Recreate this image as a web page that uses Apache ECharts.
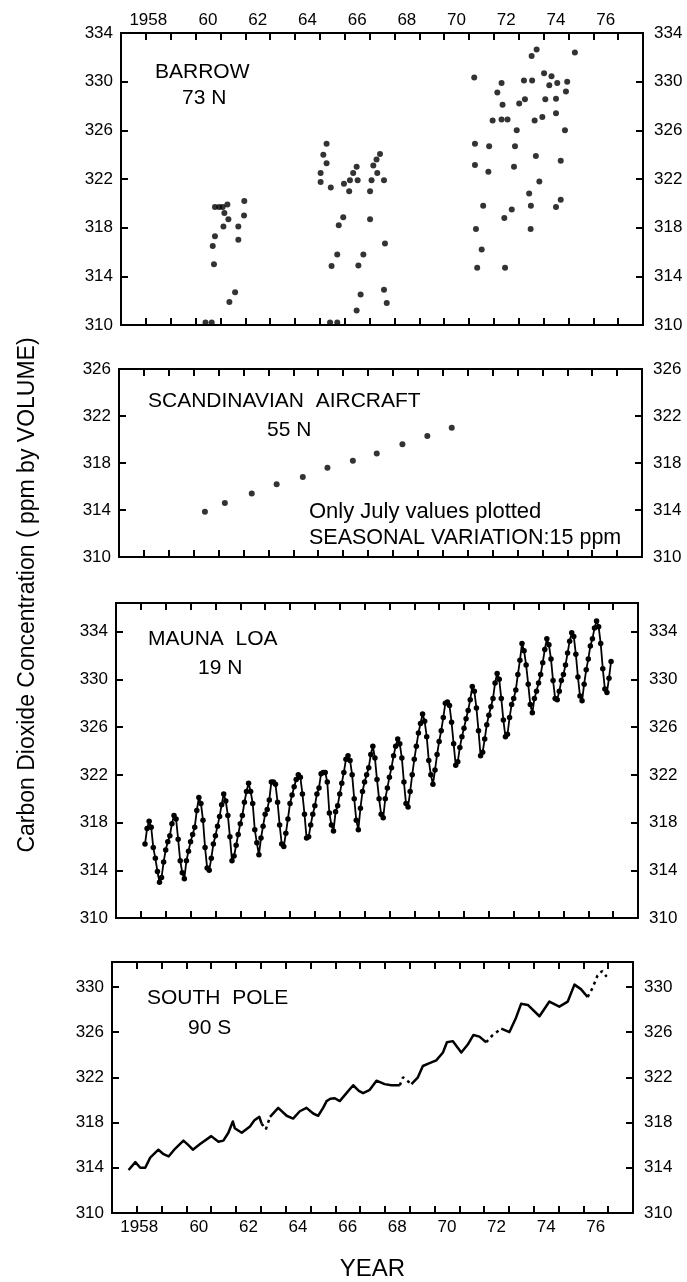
<!DOCTYPE html>
<html>
<head>
<meta charset="utf-8">
<script src="https://cdn.jsdelivr.net/npm/echarts@6/dist/echarts.min.js"></script>
<style>
  html, body { margin: 0; padding: 0; background: #fff; }
  #chart { width: 687px; height: 1282px; }
</style>
</head>
<body>
<div id="chart"></div>
<script>
const FONT = "'Liberation Sans', Arial, Helvetica, sans-serif";
const INK = '#000';

// ---------- year axis labels ----------
const yearLabelValues = [1958, 1960, 1962, 1964, 1966, 1968, 1970, 1972, 1974, 1976];
const yearLabelTexts = ['1958', '60', '62', '64', '66', '68', '70', '72', '74', '76'];

// ---------- Barrow, 73 N (flask samples) ----------
const barrowPoints = [
  [1960.40, 310.2], [1960.65, 310.2],
  [1960.69, 316.5], [1960.74, 315.0], [1960.78, 317.3], [1960.78, 319.7], [1960.95, 319.7],
  [1961.09, 319.7], [1961.12, 318.1], [1961.16, 319.2], [1961.28, 319.9], [1961.32, 318.7],
  [1961.36, 311.9], [1961.59, 312.7], [1961.72, 317.0], [1961.72, 318.1], [1961.95, 319.0],
  [1961.96, 320.2],
  [1965.03, 322.5], [1965.03, 321.75], [1965.14, 324.0], [1965.27, 324.9], [1965.27, 323.3],
  [1965.44, 321.3], [1965.47, 314.85], [1965.41, 310.2], [1965.70, 310.2], [1965.70, 315.8],
  [1965.76, 318.2], [1965.94, 318.85], [1965.97, 321.6], [1966.18, 321.0], [1966.21, 321.9],
  [1966.34, 322.5], [1966.48, 323.0], [1966.52, 321.9], [1966.55, 314.9], [1966.48, 311.2],
  [1966.64, 312.5], [1966.75, 315.8], [1967.02, 321.0], [1967.02, 318.7], [1967.08, 321.9],
  [1967.15, 323.1], [1967.31, 322.5], [1967.28, 323.6], [1967.42, 324.05], [1967.58, 321.9],
  [1967.62, 316.7], [1967.58, 312.9], [1967.69, 311.8],
  [1971.21, 330.35], [1971.24, 324.9], [1971.24, 323.15], [1971.28, 317.9], [1971.33, 314.7],
  [1971.51, 316.2], [1971.57, 319.8], [1971.78, 322.6], [1971.81, 324.7], [1971.95, 326.8],
  [1972.14, 329.1], [1972.31, 329.9], [1972.31, 326.9], [1972.35, 328.1], [1972.45, 314.7],
  [1972.42, 318.8], [1972.55, 326.9], [1972.72, 319.5], [1972.81, 323.0], [1972.85, 324.7],
  [1972.92, 326.0], [1973.02, 328.2], [1973.25, 328.55], [1973.21, 330.1], [1973.42, 320.8],
  [1973.48, 317.9], [1973.49, 319.8], [1973.52, 332.1], [1973.54, 330.1], [1973.64, 326.8],
  [1973.69, 323.9], [1973.72, 332.65], [1973.83, 321.8], [1973.95, 327.1], [1974.02, 330.7],
  [1974.07, 328.55], [1974.23, 329.7], [1974.32, 330.45], [1974.50, 327.4], [1974.50, 328.6],
  [1974.50, 319.7], [1974.55, 329.9], [1974.69, 323.5], [1974.69, 320.3], [1974.86, 326.0],
  [1974.90, 329.2], [1974.95, 330.0], [1975.26, 332.4]
];

// ---------- Scandinavian aircraft, 55 N (July values) ----------
const scandinavianYears = [1960.45, 1961.25, 1962.33, 1963.33, 1964.38, 1965.37, 1966.39, 1967.35, 1968.38, 1969.38, 1970.36];
const scandinavianValues = [313.85, 314.6, 315.4, 316.2, 316.8, 317.6, 318.2, 318.8, 319.6, 320.3, 321.0];

// ---------- Mauna Loa, 19 N (monthly means, from March 1958) ----------
const maunaLoaFirstYear = 1958;
const maunaLoaFirstMonth = 3;
const maunaLoaByYear = [
  [316.2, 317.5, 318.1, 317.6, 315.9, 315.0, 313.9, 313.0, 313.4, 314.7],
  [315.7, 316.4, 316.9, 317.9, 318.6, 318.3, 316.6, 314.8, 313.8, 313.3, 314.8, 315.6],
  [316.4, 317.0, 317.6, 319.0, 320.1, 319.6, 318.2, 315.9, 314.2, 314.0, 315.0, 316.2],
  [316.9, 317.7, 318.5, 319.5, 320.4, 319.8, 318.6, 316.8, 314.8, 315.2, 316.1, 317.0],
  [317.9, 318.6, 319.7, 320.6, 321.3, 320.6, 319.6, 317.4, 316.3, 315.3, 316.7, 317.7],
  [318.7, 319.1, 319.9, 321.4, 321.4, 321.2, 319.7, 317.8, 316.2, 316.0, 317.1, 318.3],
  [319.6, 320.3, 321.0, 321.6, 322.0, 321.8, 320.4, 318.7, 316.7, 316.8, 317.8, 318.7],
  [319.4, 320.4, 320.9, 322.1, 322.2, 322.2, 321.4, 318.8, 317.8, 317.3, 318.9, 319.4],
  [320.4, 321.3, 322.2, 323.3, 323.6, 323.2, 322.0, 320.0, 318.2, 317.4, 319.2, 320.6],
  [321.4, 322.0, 322.6, 323.7, 324.4, 323.4, 321.6, 320.0, 318.7, 318.4, 320.0, 320.9],
  [321.8, 322.6, 323.6, 324.4, 325.0, 324.6, 323.4, 321.4, 319.6, 319.3, 320.6, 322.0],
  [323.3, 324.4, 325.5, 326.3, 327.1, 326.5, 325.2, 323.2, 322.0, 321.2, 322.4, 323.7],
  [324.8, 325.7, 326.8, 328.0, 328.1, 327.8, 326.4, 324.6, 322.8, 323.1, 324.3, 325.2],
  [325.9, 326.7, 327.4, 328.3, 329.4, 329.0, 327.6, 325.7, 323.6, 323.9, 325.0, 326.2],
  [327.0, 327.7, 328.4, 329.7, 330.5, 330.0, 328.4, 326.6, 325.2, 325.4, 326.8, 327.9],
  [328.4, 329.1, 330.4, 331.6, 333.0, 332.4, 331.2, 329.6, 327.9, 327.2, 328.4, 329.0],
  [329.7, 330.4, 331.4, 332.5, 333.4, 332.9, 331.7, 329.9, 328.4, 328.3, 329.0, 329.9],
  [330.4, 331.2, 332.2, 333.2, 333.9, 333.6, 332.1, 330.2, 328.6, 328.2, 329.6, 330.8],
  [331.7, 332.8, 333.4, 334.3, 334.9, 334.4, 333.0, 330.9, 329.2, 328.9, 330.1, 331.5]
];

// ---------- South Pole, 90 S ----------
// continuous stretches of the record
const southPoleSegments = [
  [[1957.67, 313.8], [1957.94, 314.5], [1958.14, 314.0], [1958.34, 314.0], [1958.54, 314.9],
   [1958.87, 315.6], [1959.08, 315.2], [1959.28, 315.0], [1959.55, 315.7], [1959.88, 316.4],
   [1960.08, 316.0], [1960.26, 315.6], [1960.55, 316.1], [1961.00, 316.8], [1961.29, 316.3],
   [1961.49, 316.4], [1961.69, 317.1], [1961.87, 318.1], [1961.95, 317.5], [1962.23, 317.1],
   [1962.56, 317.65], [1962.74, 318.2], [1962.94, 318.5], [1963.03, 317.9]],
  [[1963.37, 318.5], [1963.70, 319.3], [1964.04, 318.6], [1964.30, 318.35], [1964.57, 319.0],
   [1964.84, 319.3], [1965.11, 318.8], [1965.31, 318.6], [1965.51, 319.3], [1965.65, 319.9],
   [1965.80, 320.1], [1965.98, 320.15], [1966.18, 319.9], [1966.45, 320.6], [1966.72, 321.3],
   [1966.95, 320.8], [1967.12, 320.6], [1967.39, 320.9], [1967.66, 321.7], [1967.99, 321.4],
   [1968.26, 321.3], [1968.60, 321.3]],
  [[1969.07, 321.4], [1969.33, 322.0], [1969.53, 323.0], [1969.80, 323.25], [1970.07, 323.5],
   [1970.34, 324.2], [1970.50, 325.1], [1970.74, 325.2], [1971.08, 324.2], [1971.34, 324.9],
   [1971.57, 325.75], [1971.81, 325.6], [1972.08, 325.1]],
  [[1972.69, 326.3], [1973.02, 326.0], [1973.29, 327.3], [1973.49, 328.5], [1973.76, 328.4],
   [1974.23, 327.4], [1974.63, 328.7], [1975.03, 328.25], [1975.37, 328.7], [1975.64, 330.2],
   [1975.90, 329.8], [1976.17, 329.1]]
];
// sparse stretches, drawn dotted
const southPoleSparse = [
  [[1963.03, 317.9], [1963.20, 317.4], [1963.37, 318.5]],
  [[1968.60, 321.3], [1968.73, 322.0], [1969.07, 321.4]],
  [[1972.08, 325.1], [1972.35, 325.75], [1972.69, 326.3]],
  [[1976.17, 329.1], [1976.37, 329.9], [1976.57, 331.0], [1976.75, 331.4], [1976.94, 330.9]]
];

// ---------- panel frames ----------
const panels = [
  { left: 121, top: 33,  width: 522, height: 292, yMin: 310, yMax: 334,   yearLabels: 'top' },
  { left: 119, top: 369, width: 523, height: 188, yMin: 310, yMax: 326 },
  { left: 116, top: 603, width: 522, height: 315, yMin: 310, yMax: 336.4 },
  { left: 112, top: 962, width: 521, height: 267, yMin: 310, yMax: 332.2, yearLabels: 'bottom' }
];

const tickStyle = { show: true, inside: true, length: 7, lineStyle: { color: INK, width: 2 } };
const labelFont = { color: INK, fontSize: 17, fontFamily: FONT };

function yearLabel(v) {
  const y = Math.round(v - 0.5);
  if (Math.abs(v - y - 0.5) > 1e-6) return '';
  const k = yearLabelValues.indexOf(y);
  if (k < 0) return '';
  return k === 0 ? '{lead|' + yearLabelTexts[k] + '}' : yearLabelTexts[k];
}

const grids = [], xAxes = [], yAxes = [];
const dataX = [], dataY = [];

panels.forEach((p, i) => {
  grids.push({
    left: p.left, top: p.top, width: p.width, height: p.height,
    show: true, borderColor: INK, borderWidth: 2, backgroundColor: 'transparent'
  });
  ['bottom', 'top'].forEach(pos => {
    if (pos === 'bottom') dataX.push(xAxes.length);
    xAxes.push({
      type: 'value', gridIndex: i, position: pos, min: 1957, max: 1978, interval: 1,
      axisLine: { show: false }, axisTick: tickStyle, axisLabel: { show: false },
      splitLine: { show: false }
    });
  });
  if (p.yearLabels) {
    const axis = {
      type: 'value', gridIndex: i, position: p.yearLabels, min: 1957, max: 1978, interval: 0.5,
      axisLine: { show: false }, axisTick: { show: false }, splitLine: { show: false },
      axisLabel: Object.assign({
        show: true, margin: p.yearLabels === 'top' ? 4 : 6, formatter: yearLabel,
        showMinLabel: true, showMaxLabel: true,
        rich: { lead: { fontSize: 17, fontFamily: FONT, color: INK, padding: [0, 20, 0, 0] } }
      }, labelFont)
    };
    if (p.yearLabels === 'bottom') {
      Object.assign(axis, {
        name: 'YEAR', nameLocation: 'middle', nameGap: 44,
        nameTextStyle: { color: INK, fontSize: 24, fontFamily: FONT }
      });
    }
    xAxes.push(axis);
  }
  ['left', 'right'].forEach(pos => {
    if (pos === 'left') dataY.push(yAxes.length);
    yAxes.push({
      type: 'value', gridIndex: i, position: pos, min: p.yMin, max: p.yMax, interval: 4,
      axisLine: { show: false }, axisTick: tickStyle, splitLine: { show: false },
      axisLabel: Object.assign({ show: true, margin: pos === 'left' ? 8 : 11, showMaxLabel: p.yMax % 4 === 2 }, labelFont)
    });
  });
});

// Mauna Loa points placed at the start of each month
const maunaLoaPoints = [];
maunaLoaByYear.forEach((row, r) => {
  const firstMonth = r === 0 ? maunaLoaFirstMonth : 1;
  row.forEach((v, j) => {
    maunaLoaPoints.push([maunaLoaFirstYear + r + (firstMonth - 1 + j) / 12, v]);
  });
});

const series = [
  {
    type: 'scatter', xAxisIndex: dataX[0], yAxisIndex: dataY[0], data: barrowPoints,
    symbol: 'circle', symbolSize: 6, itemStyle: { color: INK }, silent: true, clip: false
  },
  {
    type: 'scatter', xAxisIndex: dataX[1], yAxisIndex: dataY[1],
    data: scandinavianYears.map((y, k) => [y, scandinavianValues[k]]),
    symbol: 'circle', symbolSize: 6, itemStyle: { color: INK }, silent: true
  },
  {
    type: 'line', xAxisIndex: dataX[2], yAxisIndex: dataY[2], data: maunaLoaPoints,
    symbol: 'circle', symbolSize: 5.5, showSymbol: true, itemStyle: { color: INK },
    lineStyle: { color: INK, width: 1.8 }, animation: false, silent: true
  }
];
southPoleSegments.forEach(seg => series.push({
  type: 'line', xAxisIndex: dataX[3], yAxisIndex: dataY[3], data: seg, showSymbol: false,
  lineStyle: { color: INK, width: 2.5, join: 'round' }, animation: false, silent: true
}));
southPoleSparse.forEach(seg => series.push({
  type: 'line', xAxisIndex: dataX[3], yAxisIndex: dataY[3], data: seg, showSymbol: false,
  lineStyle: { color: INK, width: 2.5, type: [3, 4] }, animation: false, silent: true
}));

// panel captions
const captions = [
  { text: 'BARROW', x: 155, y: 72, size: 21 },
  { text: '73 N', x: 182, y: 98, size: 21 },
  { text: 'SCANDINAVIAN  AIRCRAFT', x: 148, y: 401, size: 21 },
  { text: '55 N', x: 267, y: 430, size: 21 },
  { text: 'Only July values plotted', x: 309, y: 512, size: 22 },
  { text: 'SEASONAL VARIATION:15 ppm', x: 309, y: 538, size: 21.5 },
  { text: 'MAUNA  LOA', x: 148, y: 639, size: 21 },
  { text: '19 N', x: 198, y: 668, size: 21 },
  { text: 'SOUTH  POLE', x: 147, y: 998, size: 21 },
  { text: '90 S', x: 188, y: 1028, size: 21 }
];

const graphic = captions.map(c => ({
  type: 'text', x: c.x, y: c.y, silent: true,
  style: {
    text: c.text, fill: INK, fontSize: c.size, fontFamily: FONT,
    textAlign: 'left', align: 'left', textVerticalAlign: 'middle', verticalAlign: 'middle'
  }
}));
graphic.push({
  type: 'text', x: 28, y: 595, rotation: Math.PI / 2, silent: true,
  style: {
    text: 'Carbon Dioxide Concentration ( ppm by VOLUME)', fill: INK, fontSize: 23, fontFamily: FONT,
    textAlign: 'center', align: 'center', textVerticalAlign: 'middle', verticalAlign: 'middle'
  }
});

const chart = echarts.init(document.getElementById('chart'), null, { renderer: 'canvas' });
chart.setOption({
  backgroundColor: '#fff',
  animation: false,
  textStyle: { fontFamily: FONT, color: INK },
  grid: grids,
  xAxis: xAxes,
  yAxis: yAxes,
  series: series,
  graphic: graphic
});
</script>
</body>
</html>
